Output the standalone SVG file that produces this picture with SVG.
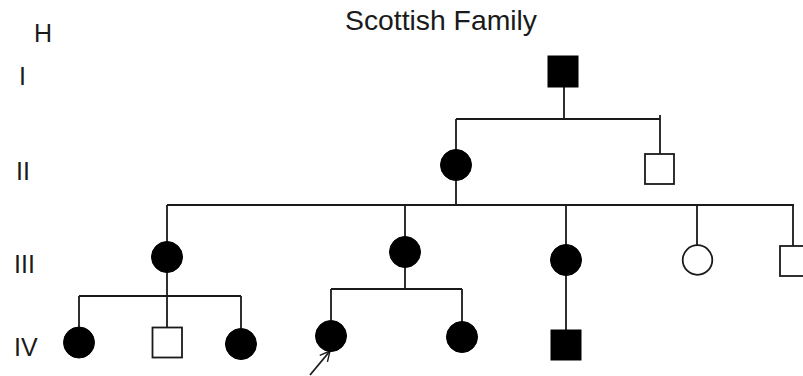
<svg xmlns="http://www.w3.org/2000/svg" width="803" height="376" viewBox="0 0 803 376">
<defs>
<style>
.t{font-family:"Liberation Sans",Arial,sans-serif;fill:#1a1a1a}
.ln{stroke:#1a1a1a;stroke-width:1.8;fill:none}
.aff{fill:#000;stroke:#000;stroke-width:1}
.un{fill:#fff;stroke:#1a1a1a;stroke-width:1.8}
</style>
<marker id="ah" viewBox="0 0 12 12" refX="11" refY="6" markerWidth="12" markerHeight="12" markerUnits="userSpaceOnUse" orient="auto">
<path d="M1,1 L11,6 L1,11" fill="none" stroke="#1a1a1a" stroke-width="1.4"/>
</marker>
</defs>
<rect width="803" height="376" fill="#fff"/>
<text class="t" x="345" y="30" font-size="28" textLength="192" lengthAdjust="spacingAndGlyphs">Scottish Family</text>
<text class="t" x="34" y="42" font-size="25">H</text>
<text class="t" x="19" y="85" font-size="25">I</text>
<text class="t" x="16" y="180" font-size="25">II</text>
<text class="t" x="14" y="273" font-size="25">III</text>
<text class="t" x="14" y="356" font-size="25">IV</text>
<g id="connectors">
<path class="ln" d="M564,86 V119 M456,119 H660 M456,119 V150 M660,115 V154"/>
<path class="ln" d="M456,180 V206 M167,205 H794 M167,205 V242 M405,205 V237 M566,206 V245 M697,206 V245 M793,206 V246"/>
<path class="ln" d="M167,272 V296 M79,296 H241 M79,296 V327 M167,296 V327 M241,296 V328"/>
<path class="ln" d="M405,267 V289 M331,289 H462 M331,289 V320 M462,289 V322"/>
<path class="ln" d="M566,275 V330"/>
<line class="ln" x1="310" y1="375" x2="330" y2="351" marker-end="url(#ah)"/>
</g>
<g id="I-1"><rect class="aff" x="548" y="56" width="30" height="31"/></g>
<g id="II-1"><circle class="aff" cx="456" cy="165" r="15.5"/></g>
<g id="II-2"><rect class="un" x="645" y="154" width="29" height="30"/></g>
<g id="III-1"><circle class="aff" cx="167" cy="257" r="15.5"/></g>
<g id="III-2"><circle class="aff" cx="405" cy="252" r="15.5"/></g>
<g id="III-3"><circle class="aff" cx="566" cy="260" r="15.5"/></g>
<g id="III-4"><circle class="un" cx="697.5" cy="260" r="14.8"/></g>
<g id="III-5"><rect class="un" x="780" y="246" width="30" height="30"/></g>
<g id="IV-1"><circle class="aff" cx="79" cy="342.5" r="15.5"/></g>
<g id="IV-2"><rect class="un" x="152.5" y="327.5" width="29.5" height="30"/></g>
<g id="IV-3"><circle class="aff" cx="241" cy="344" r="15.5"/></g>
<g id="IV-4"><circle class="aff" cx="331" cy="336" r="15.5"/></g>
<g id="IV-5"><circle class="aff" cx="462" cy="337" r="15.5"/></g>
<g id="IV-6"><rect class="aff" x="551" y="330" width="30" height="30"/></g>
</svg>
